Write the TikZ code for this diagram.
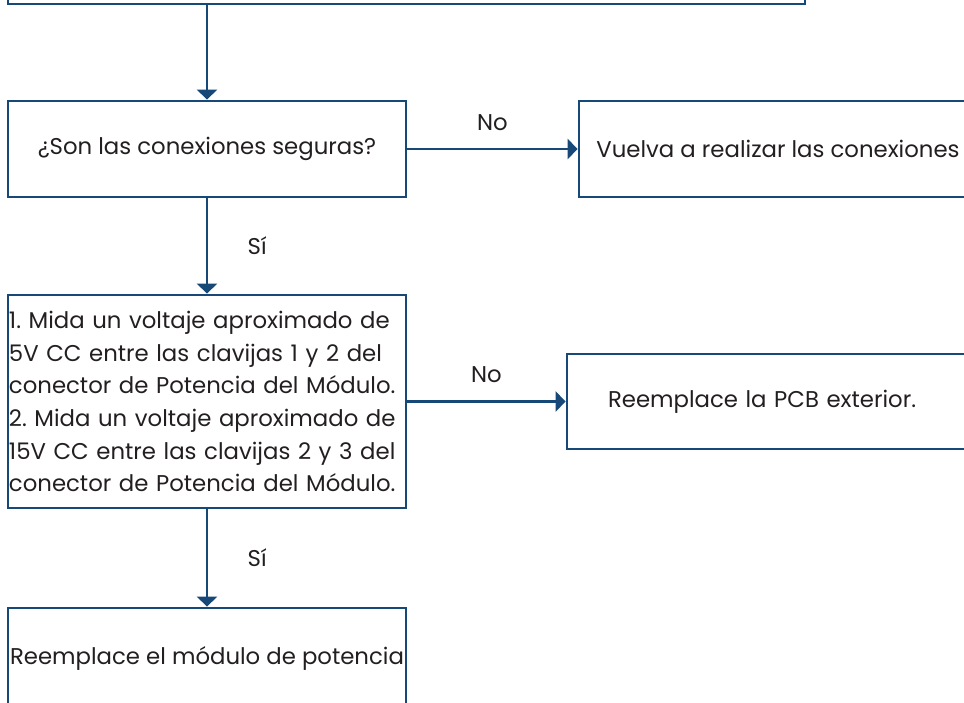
\documentclass[tikz,border=0pt]{standalone}
\usepackage{fontspec}
\setmainfont{Poppins}
\usetikzlibrary{arrows.meta}
\definecolor{azul}{RGB}{22,72,120}
\definecolor{texto}{RGB}{35,31,32}
\frenchspacing
\tikzset{
caja/.style={draw=azul, line width=2.8pt, text=texto, minimum width=398pt, inner sep=0pt, font=\fontsize{22.8}{32.7}\selectfont},
flecha/.style={azul, line width=2.8pt, -{Triangle[width=20pt,length=10pt]}},
etiqueta/.style={text=texto, font=\fontsize{22.8}{25}\selectfont}
}
\begin{document}
\begin{tikzpicture}[x=1pt,y=-1pt]
\useasboundingbox (0,0) rectangle (964,702);
\clip (0,0) rectangle (964,702);
\def\xI{207}
\def\xD{778}
\node[caja, minimum width=797pt, minimum height=96pt] (A) at (406.5,-44) {};
\node[caja, minimum height=96pt] (B) at (\xI,149) {¿Son las conexiones seguras?};
\node[caja, minimum height=96pt] (C) at (\xD,149) {Vuelva a realizar las conexiones};
\node[caja, minimum height=213pt, text width=396pt, align=left] (D) at (\xI,401.5) {1. Mida un voltaje aproximado de\\5V CC entre las clavijas 1 y 2 del\\conector de Potencia del Módulo.\\2. Mida un voltaje aproximado de\\15V CC entre las clavijas 2 y 3 del\\conector de Potencia del Módulo.};
\node[caja, minimum height=95pt, text width=398pt, align=left] (E) at (766,401.5) {\hspace*{41pt}Reemplace la PCB exterior.};
\node[caja, minimum height=100pt] (F) at (\xI,658) {Reemplace el módulo de potencia};
\draw[flecha] (B.north |- A.south) -- (B.north);
\draw[flecha] (B.east) -- node[etiqueta, above=14pt]{No} (C.west);
\draw[flecha] (B.south) -- node[etiqueta, right=36pt]{Sí} (D.north);
\draw[flecha] (D.east) -- node[etiqueta, above=14pt]{No} (E.west);
\draw[flecha] (D.south) -- node[etiqueta, right=36pt]{Sí} (F.north);
\end{tikzpicture}
\end{document}
